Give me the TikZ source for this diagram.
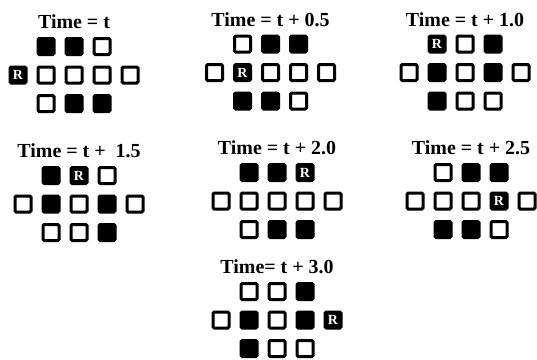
\documentclass[tikz,border=0pt]{standalone}
\usepackage{fontspec}
\setmainfont{Liberation Serif}
\usetikzlibrary{positioning,calc}
\tikzset{
  cell/.style={draw,line width=3bp,rounded corners=1.2bp,minimum size=16bp,inner sep=0pt},
  vacant/.style={cell,fill=white},
  occupied/.style={cell,fill=black},
  rcell/.style={cell,fill=black,label={[text=white,inner sep=0pt,font=\fontsize{14}{14}\selectfont\bfseries]center:R}},
  title/.style={inner sep=0pt,font=\fontsize{20}{20}\selectfont\bfseries}
}
\newcommand{\timestep}[4]{%
  \foreach \s [count=\i] in {#4} {
    \pgfmathsetmacro\cx{(\i<4 ? \i-2 : (\i<9 ? \i-6 : \i-10))*28}
    \pgfmathsetmacro\cy{(\i<4 ? 1 : (\i<9 ? 0 : -1))*28.5}
    \node[\s] (#1-\i) at ($(#2)+(\cx,\cy)$) {};
  }
  \node[title,above=8bp of #1-2] (#1) {#3};
}
\begin{document}
\begin{tikzpicture}[x=1bp,y=1bp]
  \useasboundingbox (0,0) rectangle (537,359);
  \timestep{tzero}{74,284}{Time = t}
    {occupied,occupied,vacant,rcell,vacant,vacant,vacant,vacant,vacant,occupied,occupied}
  \timestep{thalf}{270.5,286.5}{Time = t + 0.5}
    {vacant,occupied,occupied,vacant,rcell,vacant,vacant,vacant,occupied,occupied,vacant}
  \timestep{tone}{465,286.5}{Time = t + 1.0}
    {rcell,vacant,occupied,vacant,occupied,vacant,occupied,vacant,occupied,vacant,vacant}
  \timestep{tonehalf}{79,155}{Time = t + \ 1.5}
    {occupied,rcell,vacant,vacant,occupied,vacant,occupied,vacant,vacant,vacant,occupied}
  \timestep{ttwo}{277,158}{Time = t + 2.0}
    {occupied,occupied,rcell,vacant,vacant,vacant,vacant,vacant,vacant,occupied,occupied}
  \timestep{ttwohalf}{471,158}{Time = t + 2.5}
    {vacant,occupied,occupied,vacant,vacant,vacant,rcell,vacant,occupied,occupied,vacant}
  \timestep{tthree}{277,39}{Time= t + 3.0}
    {vacant,vacant,occupied,vacant,occupied,vacant,occupied,rcell,occupied,vacant,vacant}
\end{tikzpicture}
\end{document}
